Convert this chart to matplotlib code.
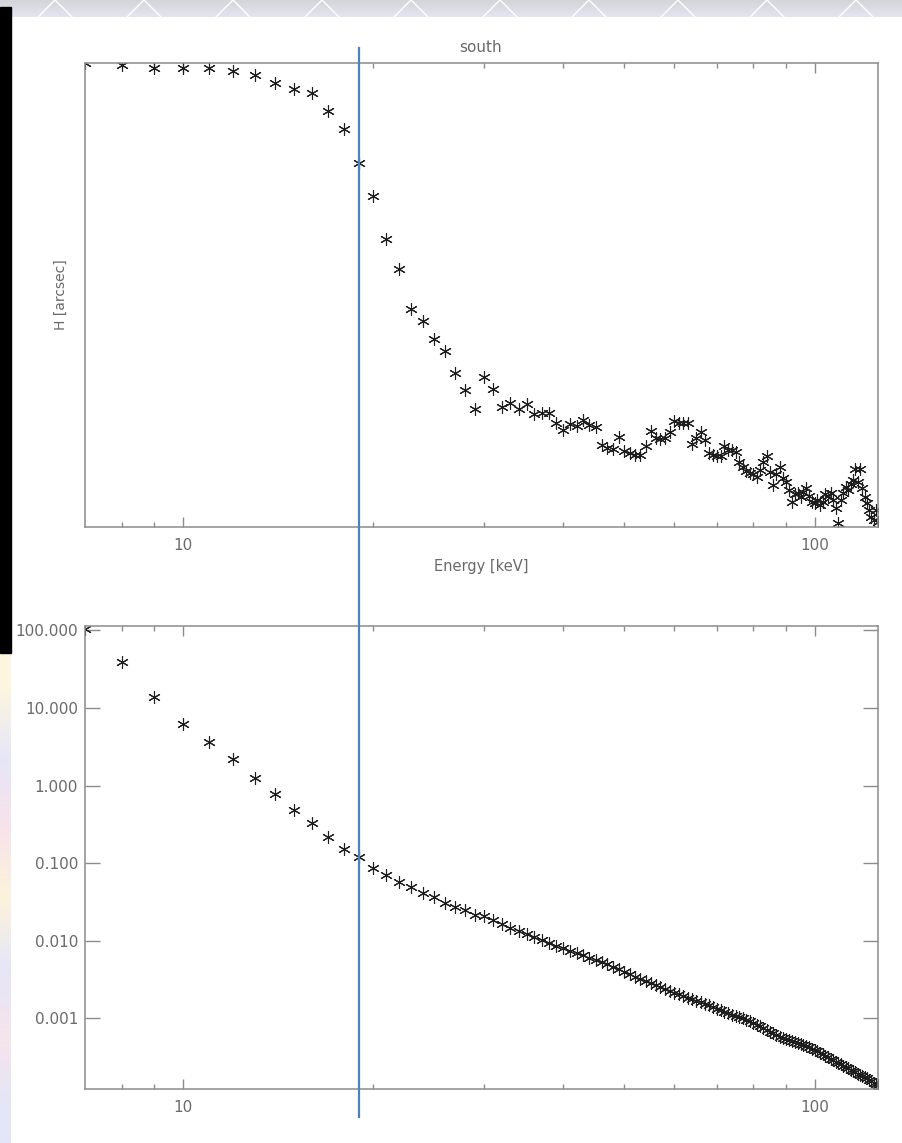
import matplotlib
matplotlib.use('Agg')
import matplotlib.pyplot as plt
import matplotlib.transforms as mtransforms
from matplotlib.colors import LinearSegmentedColormap, to_rgb
from matplotlib.lines import Line2D
from matplotlib.patches import Rectangle
from matplotlib.ticker import FixedLocator, NullFormatter, NullLocator
import numpy as np

# energie-raster [keV]
energy = [7, 8, 9, 10, 11, 12, 13, 14, 15, 16,
          17, 18, 19, 20, 21, 22, 23, 24, 25, 26,
          27, 28, 29, 30, 31, 32, 33, 34, 35, 36,
          37, 38, 39, 40, 41, 42, 43, 44, 45, 46,
          47, 48, 49, 50, 51, 52, 53, 54, 55, 56,
          57, 58, 59, 60, 61, 62, 63, 64, 65, 66,
          67, 68, 69, 70, 71, 72, 73, 74, 75, 76,
          77, 78, 79, 80, 81, 82, 83, 84, 85, 86,
          87, 88, 89, 90, 91, 92, 93, 94, 95, 96,
          97, 98, 99, 100, 101, 102, 103, 104, 105, 106,
          107, 108, 109, 110, 111, 112, 113, 114, 115, 116,
          117, 118, 119, 120, 121, 122, 123, 124, 125, 126]

# H [arcsec], modul "south"
h_south = [86.4, 86.2, 85.9, 85.9, 85.9, 85.6, 85.2, 84.4, 83.8, 83.4,
           81.6, 79.8, 76.4, 73.1, 68.8, 65.8, 61.8, 60.6, 58.8, 57.6,
           55.4, 53.7, 51.8, 55.0, 53.8, 52.0, 52.4, 51.8, 52.3, 51.3,
           51.4, 51.4, 50.4, 49.7, 50.3, 50.1, 50.7, 50.2, 50.0, 48.2,
           47.9, 47.8, 49.0, 47.6, 47.4, 47.2, 47.2, 48.1, 49.6, 48.9,
           48.8, 48.9, 49.5, 50.6, 50.4, 50.4, 50.4, 48.3, 48.9, 49.5,
           48.7, 47.4, 47.2, 47.1, 47.1, 48.1, 47.7, 47.7, 47.5, 46.5,
           46.0, 45.6, 45.4, 45.3, 45.0, 45.7, 46.5, 47.1, 45.5, 44.2,
           45.3, 46.0, 44.9, 44.5, 43.7, 42.5, 43.3, 43.4, 43.0, 43.5,
           43.9, 43.1, 42.5, 42.4, 42.7, 42.2, 42.5, 43.3, 43.1, 43.4,
           42.7, 41.9, 40.4, 42.7, 43.4, 44.0, 43.7, 44.3, 44.7, 45.85,
           44.5, 45.85, 43.9, 43.0, 42.4, 41.7, 41.0, 40.7, 41.7, 40.5]

# untere kurve (log)
flux = [105, 38.9, 13.8, 6.24, 3.62, 2.19, 1.27, 0.782, 0.491, 0.331,
        0.220, 0.153, 0.119, 0.0862, 0.0706, 0.0569, 0.0491, 0.0410, 0.0371, 0.0311,
        0.0276, 0.0250, 0.0216, 0.0207, 0.0184, 0.0165, 0.0147, 0.0132, 0.0121, 0.0111,
        0.0102, 0.00934, 0.00865, 0.00803, 0.00748, 0.00698, 0.00652, 0.00609, 0.00567, 0.00530,
        0.00495, 0.00466, 0.00431, 0.00397, 0.00368, 0.00342, 0.00322, 0.00302, 0.00284, 0.00268,
        0.00252, 0.00239, 0.00226, 0.00214, 0.00204, 0.00194, 0.00185, 0.00177, 0.00169, 0.00162,
        0.00154, 0.00147, 0.00140, 0.00133, 0.00128, 0.00122, 0.00117, 0.00112, 0.00108, 0.00104,
        0.00100, 0.000962, 0.000929, 0.000877, 0.000832, 0.000788, 0.000747, 0.000709, 0.000674, 0.000641,
        0.000609, 0.000579, 0.000562, 0.000547, 0.000531, 0.000517, 0.000501, 0.000483, 0.000466, 0.000451,
        0.000437, 0.000422, 0.000408, 0.000392, 0.000375, 0.000358, 0.000343, 0.000329, 0.000314, 0.000302,
        0.000289, 0.000278, 0.000266, 0.000255, 0.000245, 0.000236, 0.000226, 0.000218, 0.000209, 0.000201,
        0.000194, 0.000187, 0.000180, 0.000174, 0.000168, 0.000162, 0.000156, 0.000149, 0.000144, 0.000138]

x_major = [10, 100]
x_major_labels = ['10', '100']
x_minor = [8, 9, 20, 30, 40, 50, 60, 70, 80, 90]
y_ticks = [100, 10, 1, 0.1, 0.01, 0.001]
y_tick_labels = ['100.000', '10.000', '1.000', '0.100', '0.010', '0.001']
cut_energy = 19.0

W, H = 903, 1143
axis_col = '#8c8c8c'
text_col = '#6a6a6a'
star = (6, 2, 0)


def box(l, t, r, b):
    return [l / W, 1 - b / H, (r - l) / W, (b - t) / H]


fig = plt.figure(figsize=(W / 100, H / 100), dpi=100)
fig.patch.set_facecolor('white')

# folien-hintergrund
bg = fig.add_axes([0, 0, 1, 1], zorder=-10)
strip_cmap = LinearSegmentedColormap.from_list('strip', ['#d5d5d9', '#e3e5f0'])
bg.imshow(np.linspace(0, 1, 20)[:, None], extent=(0, W, 17, 0), cmap=strip_cmap,
          aspect='auto')
for cx in range(55, W, 89):
    bg.plot([cx - 17, cx, cx + 17], [17, 0, 17], color='white', lw=1.0)
bg.add_patch(Rectangle((0, 7), 11, 646, color='black'))
pastel = np.array([to_rgb(c) for c in ['#fdf6df', '#e6e6f8', '#f7e3ea', '#fcf3dc',
                                       '#e6e6f7', '#f5e4ec', '#e4e6f8']])[:, None, :]
bg.imshow(pastel, extent=(0, 11, H, 653), aspect='auto', interpolation='bilinear')
bg.set_xlim(0, W)
bg.set_ylim(H, 0)
bg.axis('off')


def style_axes(ax, ylen):
    ax.set_xscale('log')
    ax.set_xlim(7, 126)
    ax.xaxis.set_major_locator(FixedLocator(x_major))
    ax.set_xticklabels(x_major_labels)
    ax.xaxis.set_minor_locator(FixedLocator(x_minor))
    ax.xaxis.set_minor_formatter(NullFormatter())
    for s in ax.spines.values():
        s.set_color(axis_col)
        s.set_linewidth(1.1)
    ax.tick_params(axis='x', which='major', direction='in', top=True, bottom=True,
                   length=7, width=1, color=axis_col, labelcolor=text_col,
                   labelsize=11, pad=8)
    ax.tick_params(axis='x', which='minor', direction='in', top=True, bottom=True,
                   length=3.6, width=1, color=axis_col)


# oben: H gegen Energie
ax1 = fig.add_axes(box(85, 63, 878, 527))
ax1.plot(energy, h_south, linestyle='none', marker=star, ms=9, mec='#1e1e1e', mew=0.8)
style_axes(ax1, 0)
ax1.set_ylim(40, 86.4)
ax1.set_yticks([])

fig.text(481 / W, 1 - 48 / H, 'south', ha='center', va='center', fontsize=11,
         color=text_col)
fig.text(481 / W, 1 - 567 / H, 'Energy [keV]', ha='center', va='center', fontsize=10.5,
         color=text_col)
fig.text(61 / W, 1 - 295 / H, 'H [arcsec]', ha='center', va='center', fontsize=10,
         color=text_col, rotation=90)

# unten: log-Darstellung
ax2 = fig.add_axes(box(85, 626, 878, 1089))
ax2.plot(energy, flux, linestyle='none', marker=star, ms=9, mec='#1e1e1e', mew=0.8)
ax2.set_yscale('log')
style_axes(ax2, 0)
ax2.set_ylim(1.23e-4, 114)
ax2.yaxis.set_major_locator(FixedLocator(y_ticks))
ax2.set_yticklabels(y_tick_labels)
ax2.yaxis.set_minor_locator(NullLocator())
ax2.tick_params(axis='y', which='major', direction='in', left=True, right=True,
                length=10.8, width=1, color=axis_col, labelcolor=text_col,
                labelsize=11, pad=5)

# blaue markierung bei ~19 keV ueber beide panels
trans = mtransforms.blended_transform_factory(ax1.transData, fig.transFigure)
fig.add_artist(Line2D([cut_energy, cut_energy], [1 - 48 / H, 1 - 1117 / H],
                      transform=trans, color='#4f81bd', lw=1.6))

fig.savefig('out.png', dpi=100)
